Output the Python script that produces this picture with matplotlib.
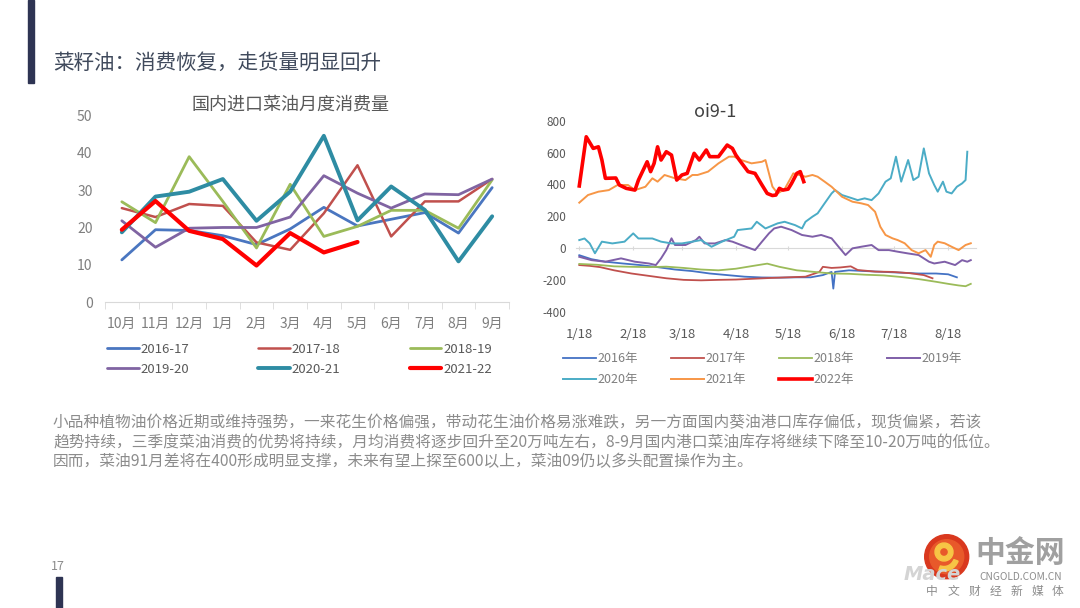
import numpy as np
import matplotlib
matplotlib.use("Agg")
import matplotlib.pyplot as plt
from matplotlib.patches import Circle, Rectangle, Wedge

plt.rcParams['font.family'] = ['Noto Sans CJK SC', 'DejaVu Sans']

W, H = 1080, 608

# ---- left chart: monthly consumption (10k t) ----
months = ['10月', '11月', '12月', '1月', '2月', '3月', '4月', '5月', '6月', '7月', '8月', '9月']
seasons = ['2016-17', '2017-18', '2018-19', '2019-20', '2020-21', '2021-22']
c1617 = [11.3, 19.4, 19.2, 17.8, 15.4, 19.6, 25.4, 20.4, 22.2, 24.0, 18.5, 30.7]
c1718 = [25.2, 22.8, 26.3, 25.8, 16.0, 14.0, 23.8, 36.7, 17.6, 27.0, 27.0, 33.0]
c1819 = [26.9, 21.3, 39.0, 27.0, 14.5, 31.6, 17.6, 20.3, 24.6, 24.6, 19.8, 32.8]
c1920 = [21.8, 14.7, 19.8, 20.0, 20.0, 22.8, 33.9, 29.2, 25.2, 29.0, 28.8, 33.0]
c2021 = [18.7, 28.3, 29.6, 33.0, 21.8, 29.6, 44.6, 21.9, 31.0, 24.7, 10.9, 23.0]
c2122 = [19.4, 27.1, 19.1, 16.9, 9.8, 18.5, 13.3, 16.1]

# ---- right chart: oi9-1 spread, days counted from 1/18 ----
month_days = [0, 31, 59, 90, 120, 151, 181, 212]
month_labels = ['1/18', '2/18', '3/18', '4/18', '5/18', '6/18', '7/18', '8/18']
years = ['2016年', '2017年', '2018年', '2019年', '2020年', '2021年', '2022年']

d2016 = [0, 7, 15, 25, 35, 45, 55, 65, 75, 85, 95, 105, 115, 125, 133, 140, 145, 146, 147, 155, 165, 175, 185, 195, 205, 212, 217]
v2016 = [-45, -70, -86, -97, -107, -120, -135, -145, -160, -170, -180, -185, -186, -184, -184, -170, -150, -255, -150, -140, -145, -150, -155, -160, -160, -165, -184]

d2017 = [0, 6, 12, 20, 30, 40, 50, 60, 70, 80, 90, 100, 110, 120, 130, 138, 140, 145, 150, 156, 160, 170, 180, 190, 198, 203]
v2017 = [-107, -112, -120, -140, -160, -175, -190, -200, -203, -200, -198, -193, -188, -184, -180, -150, -118, -125, -122, -115, -138, -148, -150, -158, -170, -190]

d2018 = [0, 10, 20, 30, 40, 50, 60, 70, 80, 90, 100, 108, 115, 125, 135, 145, 155, 165, 175, 185, 195, 205, 212, 218, 222, 225]
v2018 = [-100, -105, -115, -118, -120, -117, -125, -135, -140, -130, -112, -98, -118, -140, -150, -160, -162, -168, -172, -182, -195, -212, -225, -235, -240, -225]

d2019 = [0, 7, 15, 24, 32, 40, 44, 47, 50, 53, 55, 61, 67, 69, 72, 78, 84, 88, 93, 101, 105, 109, 112, 116, 122, 128, 134, 139, 145, 149, 153, 157, 162, 168, 172, 178, 183, 189, 195, 201, 204, 210, 216, 220, 223, 225]
v2019 = [-55, -76, -86, -65, -86, -97, -107, -65, -13, 61, 19, 19, 50, 71, 29, 29, 50, 40, 19, -13, 40, 92, 123, 134, 113, 82, 71, 82, 61, 8, -44, -2, 8, 19, -13, -13, -23, -34, -44, -86, -97, -86, -107, -76, -86, -76]

d2020 = [0, 3, 6, 9, 13, 19, 26, 31, 34, 42, 47, 53, 59, 65, 70, 76, 82, 89, 91, 99, 102, 107, 114, 118, 124, 128, 130, 134, 137, 141, 145, 147, 151, 157, 160, 164, 168, 172, 176, 179, 182, 185, 189, 192, 195, 198, 201, 204, 206, 209, 211, 214, 217, 220, 222, 223]
v2020 = [50, 60, 29, -33, 40, 29, 40, 92, 60, 60, 40, 29, 29, 40, 50, 8, 40, 71, 113, 123, 165, 123, 155, 165, 144, 123, 165, 197, 218, 281, 343, 364, 333, 312, 301, 312, 301, 343, 417, 438, 574, 417, 553, 427, 448, 626, 469, 396, 354, 417, 354, 343, 385, 406, 427, 605]

d2021 = [0, 5, 11, 17, 22, 28, 32, 38, 42, 45, 49, 55, 61, 65, 68, 74, 80, 86, 89, 93, 99, 105, 107, 111, 114, 118, 123, 130, 134, 137, 141, 145, 148, 151, 157, 162, 166, 170, 173, 176, 180, 183, 187, 191, 195, 199, 202, 204, 206, 210, 214, 218, 222, 225]
v2021 = [285, 333, 354, 364, 396, 396, 364, 385, 438, 417, 459, 438, 427, 459, 459, 480, 532, 574, 574, 553, 532, 542, 553, 386, 343, 370, 469, 448, 459, 448, 417, 385, 354, 322, 291, 281, 270, 228, 134, 82, 61, 50, 30, -13, -33, -13, -55, 19, 40, 30, 8, -13, 19, 30]

d2022 = [0, 4, 8, 11, 13, 15, 21, 23, 27, 32, 34, 39, 41, 43, 45, 47, 50, 53, 56, 59, 62, 66, 69, 73, 75, 80, 85, 88, 90, 92, 97, 101, 105, 108, 111, 113, 115, 117, 120, 122, 125, 127, 129]
v2022 = [390, 699, 626, 636, 553, 438, 440, 396, 375, 364, 427, 542, 480, 532, 636, 553, 605, 584, 427, 459, 469, 595, 553, 616, 574, 574, 647, 626, 584, 553, 480, 469, 396, 343, 330, 333, 375, 364, 370, 406, 469, 480, 417]

title = '菜籽油：消费恢复，走货量明显回升'
para = ['小品种植物油价格近期或维持强势，一来花生价格偏强，带动花生油价格易涨难跌，另一方面国内葵油港口库存偏低，现货偏紧，若该',
        '趋势持续，三季度菜油消费的优势将持续，月均消费将逐步回升至20万吨左右，8-9月国内港口菜油库存将继续下降至10-20万吨的低位。',
        '因而，菜油91月差将在400形成明显支撑，未来有望上探至600以上，菜油09仍以多头配置操作为主。']


def fbox(x0, y0, x1, y1):
    # pixel box (top-left origin) -> figure rect
    return [x0 / W, 1 - y1 / H, (x1 - x0) / W, (y1 - y0) / H]


fig = plt.figure(figsize=(10.8, 6.08), dpi=100)
fig.patch.set_facecolor('white')

# ---------------- left chart ----------------
ax1 = fig.add_axes(fbox(105, 115.7, 509, 302))
left_series = [c1617, c1718, c1819, c1920, c2021, c2122]
left_colors = ['#4a76c0', '#c0504d', '#9bbb59', '#8064a2', '#2e8ca3', '#ff0000']
left_widths = [2.0, 1.8, 2.0, 2.0, 2.8, 3.0]
lines1 = []
for name, vals, col, lw in zip(seasons, left_series, left_colors, left_widths):
    ln, = ax1.plot(range(len(vals)), vals, color=col, lw=lw, label=name,
                   solid_joinstyle='round', solid_capstyle='round')
    lines1.append(ln)
ax1.set_xlim(-0.5, 11.5)
ax1.set_ylim(0, 50)
for s in ['top', 'right', 'left']:
    ax1.spines[s].set_visible(False)
ax1.spines['bottom'].set_color('#d9d9d9')
ax1.set_xticks(range(12))
ax1.set_xticklabels(months)
ax1.set_xticks(np.arange(-0.5, 12, 1), minor=True)
ax1.tick_params(axis='x', which='major', length=0, pad=11, labelsize=10, colors='#7f7f7f')
ax1.tick_params(axis='x', which='minor', length=5, color='#d9d9d9')
ax1.set_yticks(range(0, 51, 10))
ax1.tick_params(axis='y', length=0, pad=9, labelsize=10, colors='#7f7f7f')
fig.text(290 / W, 1 - 105 / H, '国内进口菜油月度消费量', ha='center', va='center',
         fontsize=13, color='#595959')
order1 = [0, 3, 1, 4, 2, 5]
leg1 = ax1.legend([lines1[i] for i in order1], [seasons[i] for i in order1],
                  loc='upper left', bbox_to_anchor=(107 / W, 1 - 383 / H, (492 - 107) / W, 40 / H),
                  bbox_transform=fig.transFigure, mode='expand', ncol=3, frameon=False,
                  fontsize=9.5, handlelength=2.4, handletextpad=0.15, borderaxespad=0,
                  borderpad=0, labelspacing=0.53)
for t in leg1.get_texts():
    t.set_color('#595959')

# ---------------- right chart ----------------
ax2 = fig.add_axes(fbox(575.8, 120.7, 976, 311.7))
right_days = [d2016, d2017, d2018, d2019, d2020, d2021, d2022]
right_vals = [v2016, v2017, v2018, v2019, v2020, v2021, v2022]
right_colors = ['#4472c4', '#c0504d', '#9bbb59', '#7f5fa8', '#4bacc6', '#f79646', '#ff0000']
right_widths = [1.3, 1.3, 1.3, 1.4, 1.4, 1.4, 2.6]
lines2 = []
for name, dd, vv, col, lw in zip(years, right_days, right_vals, right_colors, right_widths):
    ln, = ax2.plot(dd, vv, color=col, lw=lw, label=name, solid_joinstyle='round')
    lines2.append(ln)
ax2.set_xlim(-2, 228)
ax2.set_ylim(-400, 800)
for s in ax2.spines.values():
    s.set_visible(False)
yt = list(range(-400, 801, 200))
ax2.set_yticks(yt)
ax2.set_yticklabels([str(v) for v in yt])
ax2.tick_params(axis='y', length=0, pad=7, labelsize=8.5, colors='#595959')
ax2.set_xticks(month_days)
ax2.set_xticklabels(month_labels)
ax2.tick_params(axis='x', length=0, pad=12, labelsize=9.5, colors='#595959')
zero_ax = ax2.secondary_xaxis(400 / 1200)
zero_ax.set_xticks(month_days)
zero_ax.tick_params(axis='x', length=3, direction='inout', color='#d9d9d9', labelbottom=False)
zero_ax.spines['bottom'].set_color('#d9d9d9')
fig.text(715 / W, 1 - 112 / H, 'oi9-1', ha='center', va='center', fontsize=13, color='#404040')
order2 = [0, 4, 1, 5, 2, 6, 3]
leg2 = ax2.legend([lines2[i] for i in order2], [years[i] for i in order2],
                  loc='upper left', bbox_to_anchor=(563 / W, 1 - 392 / H, (962 - 563) / W, 40 / H),
                  bbox_transform=fig.transFigure, mode='expand', ncol=4, frameon=False,
                  fontsize=9, handlelength=2.6, handletextpad=0.15, borderaxespad=0,
                  borderpad=0, labelspacing=0.64)
for t in leg2.get_texts():
    t.set_color('#7f7f7f')

# ---------------- slide overlay ----------------
ov = fig.add_axes([0, 0, 1, 1], zorder=-1)
ov.set_xlim(0, W)
ov.set_ylim(H, 0)
ov.axis('off')
ov.add_patch(Rectangle((28, 0), 6, 83, color='#2e3453'))
ov.add_patch(Rectangle((56, 577), 6, 31, color='#2e3453'))
ov.text(58, 567, '17', ha='center', va='center', fontsize=9, color='#8c8c8c')
ov.text(53, 63, title, ha='left', va='center', fontsize=14.8, color='#404a5c')
for i, line in enumerate(para):
    ov.text(53, 423 + i * 19.5, line, ha='left', va='center', fontsize=11.3, color='#8c8c8c')

# logo
ov.text(932, 574, 'Mace', ha='center', va='center', fontsize=14, fontweight='bold',
        style='italic', color='#d4d4d4', family='DejaVu Sans')
ov.add_patch(Circle((946.7, 556.7), 22, color='#d9381e'))
ov.add_patch(Circle((946.7, 556.7), 17, color='#e8592a'))
ov.add_patch(Wedge((944, 552), 9, 0, 360, width=4.5, color='#f7c545'))
ov.add_patch(Wedge((944, 556), 15, 20, 110, width=4.5, color='#f7c545'))
ov.text(1020, 553, '中金网', ha='center', va='center', fontsize=21.5, fontweight='bold',
        color='#a0a0a0')
ov.text(1021, 577, 'CNGOLD.COM.CN', ha='center', va='center', fontsize=7.3, color='#8c8c8c')
for k, ch in enumerate('中文财经新媒体'):
    ov.text(932 + k * 21, 591, ch, ha='center', va='center', fontsize=8.5, color='#8c8c8c')

fig.savefig('out.png', dpi=100)
